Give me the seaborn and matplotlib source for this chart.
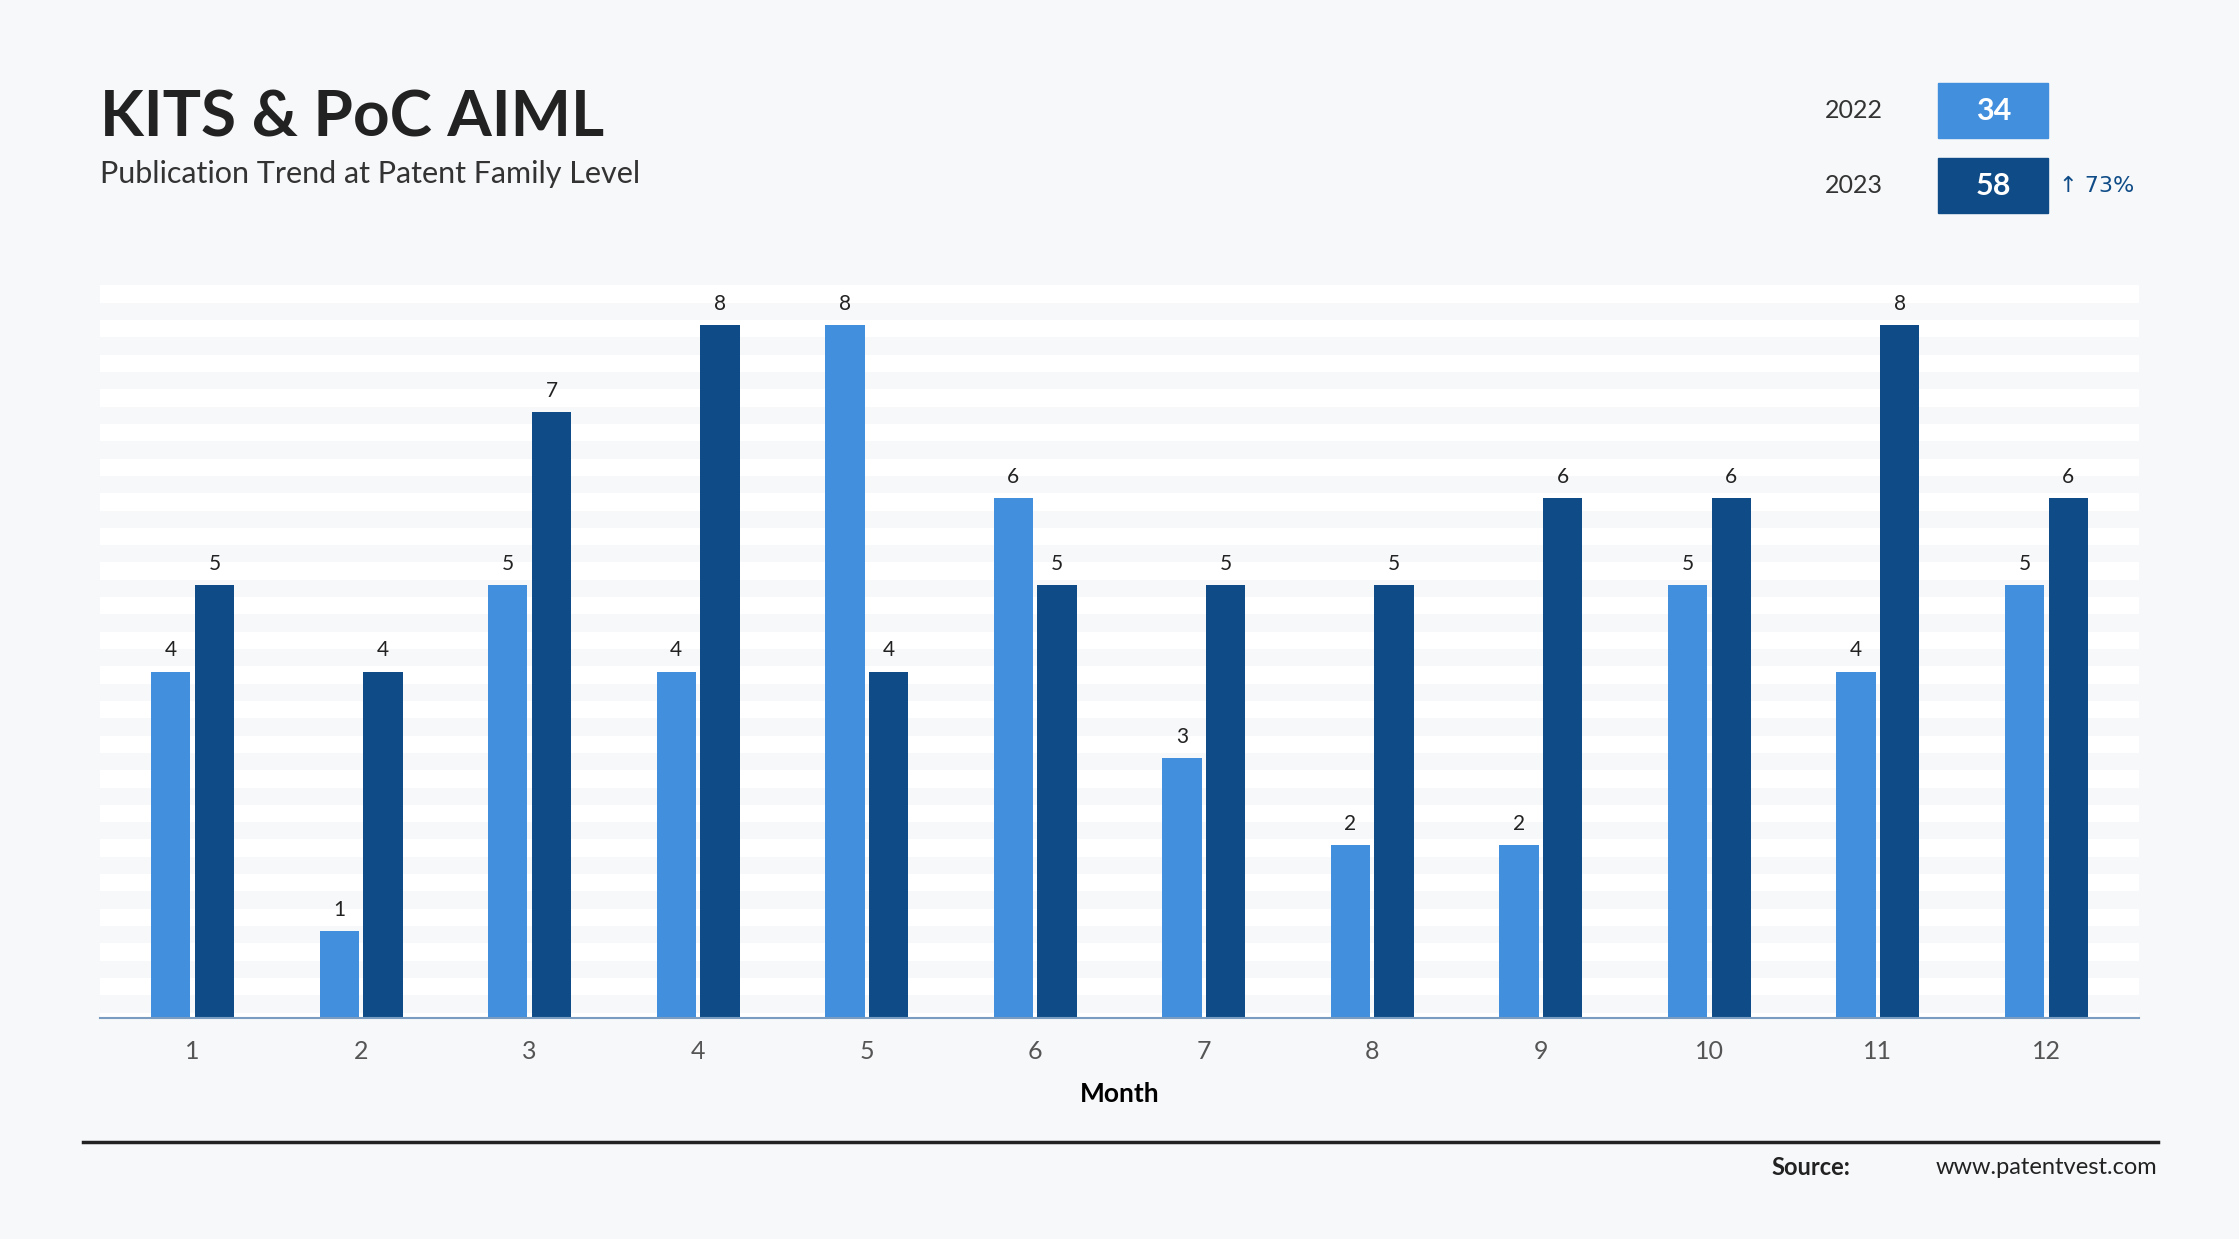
import numpy as np
import pandas as pd
import seaborn as sns
import matplotlib.pyplot as plt
from matplotlib.patches import Rectangle
from matplotlib.lines import Line2D

months = [str(m) for m in range(1, 13)]
y2022 = [4, 1, 5, 4, 8, 6, 3, 2, 2, 5, 4, 5]
y2023 = [5, 4, 7, 8, 4, 5, 5, 5, 6, 6, 8, 6]
years = ["2022", "2023"]
totals = ["34", "58"]
growth = "↑ 73%"

light = "#428fde"
dark = "#0f4c87"
bg = "#f7f8fa"
font = "Lato"

df = pd.DataFrame({
    "Month": months * 2,
    "Count": y2022 + y2023,
    "Year": ["2022"] * 12 + ["2023"] * 12,
})

fig = plt.figure(figsize=(22.39, 12.39), dpi=100)
fig.patch.set_facecolor(bg)
W, H = 1568, 868

def fx(x): return x / W
def fy(y): return 1 - y / H

ax = fig.add_axes([fx(70), fy(713), fx(1498) - fx(70), fy(200) - fy(713)])
ax.set_facecolor(bg)
ymax = 8.46
# white stripes
s = ymax
while s > 0:
    ax.axhspan(max(s - 0.2, 0), s, color="white", zorder=0, lw=0)
    s -= 0.4

sns.barplot(data=df, x="Month", y="Count", hue="Year", palette=[light, dark],
            width=0.52, gap=0.1, ax=ax, legend=False, zorder=2, saturation=1)
for c in ax.containers:
    ax.bar_label(c, padding=8, fontsize=15, color="#222222", family=font)

ax.set_ylim(0, ymax)
ax.set_xlim(-0.55, 11.55)
ax.set_yticks([])
for sp in ["top", "right", "left"]:
    ax.spines[sp].set_visible(False)
ax.spines["bottom"].set_color("#7a9cc0")
ax.spines["bottom"].set_linewidth(1.5)
ax.tick_params(axis="x", length=0, pad=16, labelsize=18, labelcolor="#555555")
for t in ax.get_xticklabels():
    t.set_family(font)
ax.set_xlabel("Month", fontsize=19, fontweight="bold", family=font, labelpad=14)
ax.set_ylabel("")

fig.text(fx(70), fy(83), "KITS & PoC AIML", fontsize=46, fontweight="bold",
         family=font, color="#222222", va="center")
fig.text(fx(70), fy(122), "Publication Trend at Patent Family Level", fontsize=22,
         family=font, color="#333333", va="center")

box_ys = [(58, 97), (111, 149)]
for yr, tot, col, (y0, y1) in zip(years, totals, [light, dark], box_ys):
    fig.text(fx(1278), fy((y0 + y1) / 2), yr, fontsize=18, family=font,
             color="#333333", va="center")
    fig.patches.append(Rectangle((fx(1357), fy(y1)), fx(1434) - fx(1357),
                                 fy(y0) - fy(y1), transform=fig.transFigure,
                                 color=col))
    fig.text(fx(1396), fy((y0 + y1) / 2), tot, fontsize=22, fontweight="bold",
             family=font, color="white", va="center", ha="center")
fig.text(fx(1442), fy(130), growth, fontsize=16, family="DejaVu Sans",
         color=dark, va="center")

fig.lines.append(Line2D([fx(58), fx(1511)], [fy(800), fy(800)],
                        transform=fig.transFigure, color="#222222", lw=2.5))
fig.text(fx(1511), fy(818), "www.patentvest.com", fontsize=17, family=font,
         color="#222222", ha="right", va="center")
fig.text(fx(1296), fy(818), "Source:", fontsize=17, fontweight="bold",
         family=font, color="#222222", ha="right", va="center")

fig.savefig("out.png", dpi=100, facecolor=bg)
